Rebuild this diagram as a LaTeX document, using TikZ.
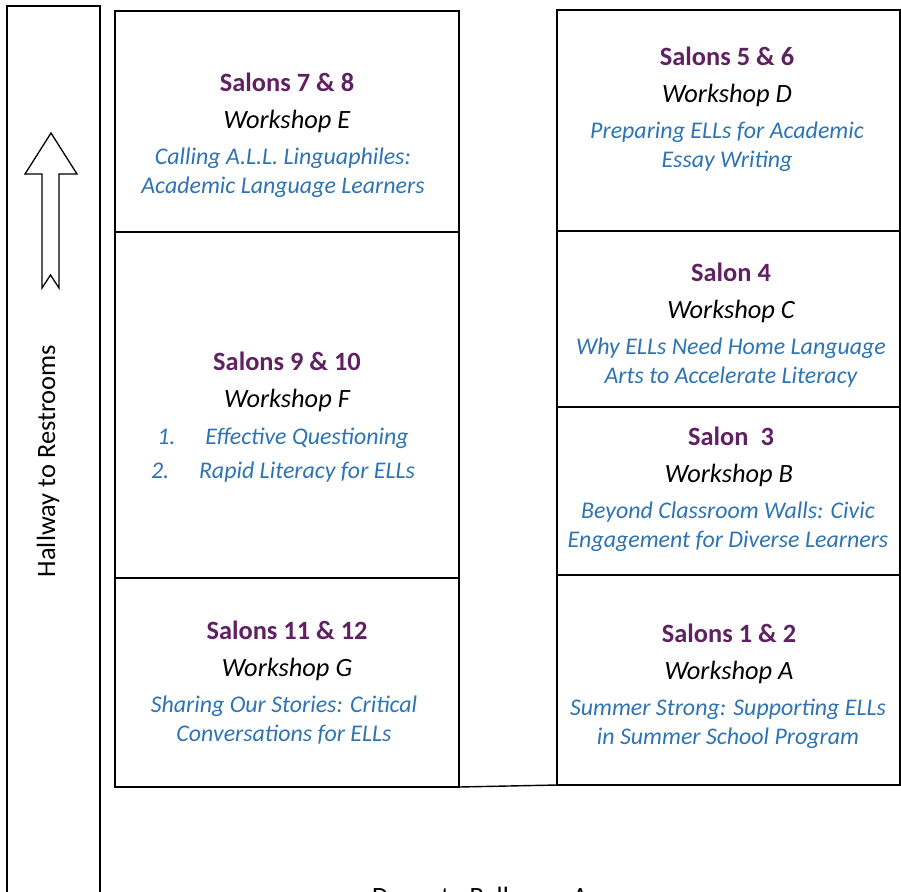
\documentclass[tikz,border=0pt]{standalone}
\usepackage{fontspec}
\setmainfont{Carlito}
\definecolor{salon}{RGB}{96,33,98}
\definecolor{topic}{RGB}{46,116,181}
\tikzset{
  room/.style={draw=black, line width=1.6bp, inner sep=0pt, outer sep=0pt, fill=white},
  wall/.style={draw=black, line width=1.4bp},
  ttl/.style={font=\fontsize{26.5}{29}\selectfont\bfseries, text=salon, inner sep=0pt},
  wsh/.style={font=\fontsize{26.5}{29}\selectfont\itshape, text=black, inner sep=0pt},
  tpc/.style={font=\fontsize{24}{29}\selectfont\itshape, text=topic, align=center, inner sep=0pt},
  plain/.style={font=\fontsize{26.5}{29}\selectfont, text=black, inner sep=0pt},
  hallarrow/.style={draw=black, line width=1.3bp, fill=white, line join=miter}
}
\begin{document}
\begin{tikzpicture}[x=1bp,y=-1bp]
\useasboundingbox (0,0) rectangle (901,892);
\clip (0,0) rectangle (901,892);
% hallway
\node[room, minimum width=93bp, minimum height=900bp, anchor=north west] (hall) at (7,6) {};
\draw[hallarrow] (51,133) -- (77,174) -- (59,174) -- (59,288) -- (50.5,275) -- (42,288) -- (42,174) -- (25,174) -- cycle;
\node[plain, rotate=90] (halltxt) at (48,461) {Hallway to Restrooms};
% left column
\node[room, minimum width=344bp, minimum height=221bp, anchor=north west] (E) at (115,11) {};
\node[room, minimum width=344bp, minimum height=346bp, anchor=north west] (F) at (115,232) {};
\node[room, minimum width=344bp, minimum height=209bp, anchor=north west] (G) at (115,578) {};
% right column
\node[room, minimum width=343bp, minimum height=221bp, anchor=north west] (D) at (557,10) {};
\node[room, minimum width=343bp, minimum height=176bp, anchor=north west] (C) at (557,231) {};
\node[room, minimum width=343bp, minimum height=168bp, anchor=north west] (B) at (557,407) {};
\node[room, minimum width=343bp, minimum height=210bp, anchor=north west] (A) at (557,575) {};
\draw[wall] (G.south east) -- (A.south west);
% texts left
\node[ttl] (Et) at (287,82) {Salons 7 \& 8};
\node[wsh] (Ew) at (287,121) {Workshop E};
\node[tpc] (Ep) at (283,172.5) {Calling A.L.L. Linguaphiles:\\Academic Language Learners};
\node[ttl] (Ft) at (287,361) {Salons 9 \& 10};
\node[wsh] (Fw) at (287,400) {Workshop F};
\node[tpc] (Fp1) at (283,438) {\makebox[48bp][l]{1.}Effective Questioning};
\node[tpc] (Fp2) at (283,472) {\makebox[48bp][l]{2.}Rapid Literacy for ELLs};
\node[ttl] (Gt) at (287,630) {Salons 11 \& 12};
\node[wsh] (Gw) at (287,669) {Workshop G};
\node[tpc] (Gp) at (284,720.5) {Sharing Our Stories: Critical\\Conversations for ELLs};
% texts right
\node[ttl] (Dt) at (727,56) {Salons 5 \& 6};
\node[wsh] (Dw) at (727,95) {Workshop D};
\node[tpc] (Dp) at (727,146.5) {Preparing ELLs for Academic\\Essay Writing};
\node[ttl] (Ct) at (731,272) {Salon 4};
\node[wsh] (Cw) at (731,311) {Workshop C};
\node[tpc] (Cp) at (731,362.5) {Why ELLs Need Home Language\\Arts to Accelerate Literacy};
\node[ttl] (Bt) at (731,436) {Salon\ \ 3};
\node[wsh] (Bw) at (729,475) {Workshop B};
\node[tpc] (Bp) at (728,526.5) {Beyond Classroom Walls: Civic\\Engagement for Diverse Learners};
\node[ttl] (At) at (729,633) {Salons 1 \& 2};
\node[wsh] (Aw) at (729,672) {Workshop A};
\node[tpc] (Ap) at (728,723.5) {Summer Strong: Supporting ELLs\\in Summer School Program};
% bottom
\node[plain, anchor=north] (doors) at (480,887) {Doors to Ballroom A};
\end{tikzpicture}
\end{document}
